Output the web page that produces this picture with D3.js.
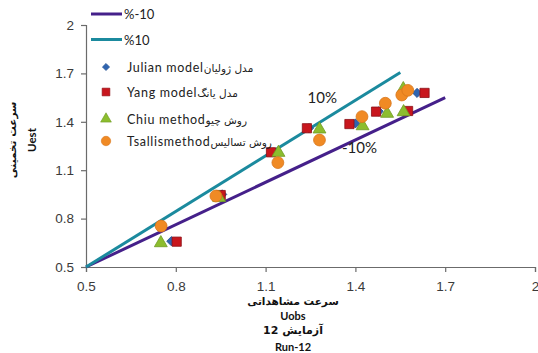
<!DOCTYPE html>
<html>
<head>
<meta charset="utf-8">
<script src="https://cdn.jsdelivr.net/npm/d3@7"></script>
<style>
  html, body { margin: 0; padding: 0; background: #fff; }
  svg { display: block; font-family: Lato, "Open Sans", "DejaVu Sans", sans-serif; }
</style>
</head>
<body>
<svg id="chart" width="538" height="353"></svg>
<script>
// Axis ticks
const xTicks = [0.5, 0.8, 1.1, 1.4, 1.7, 2];
const yTicks = [0.5, 0.8, 1.1, 1.4, 1.7, 2];

// Reference lines (±10% bands)
const plus10X = [0.5, 1.55];
const plus10Y = [0.5, 1.705];
const minus10X = [0.5, 1.7];
const minus10Y = [0.5, 1.55];

// Observed vs estimated velocity, Run-12
const julianX = [0.785, 0.955, 1.125, 1.245, 1.40, 1.478, 1.606];
const julianY = [0.660, 0.950, 1.210, 1.360, 1.390, 1.465, 1.579];

const yangX = [0.803, 0.950, 1.118, 1.238, 1.380, 1.469, 1.576, 1.631];
const yangY = [0.657, 0.946, 1.211, 1.360, 1.386, 1.463, 1.467, 1.579];

const chiuX = [0.750, 0.945, 1.143, 1.280, 1.424, 1.506, 1.561, 1.560];
const chiuY = [0.655, 0.935, 1.215, 1.360, 1.380, 1.457, 1.467, 1.610];

const tsallisX = [0.751, 0.934, 1.141, 1.280, 1.422, 1.500, 1.555, 1.575];
const tsallisY = [0.754, 0.940, 1.147, 1.287, 1.432, 1.515, 1.566, 1.595];

const seriesNames = ["Julian model", "Yang model", "Chiu method", "Tsallismethod"];
const seriesNamesFa = ["مدل ژولیان", "مدل یانگ", "روش چیو", "روش تسالیس"];
const lineNames = ["%-10", "%10"];

const xTitle = ["سرعت مشاهداتی", "Uobs", "آزمایش 12", "Run-12"];
const yTitle = ["سرعت تخمینی", "Uest"];

const svg = d3.select("#chart");

const x = d3.scaleLinear().domain([0.5, 2]).range([86, 535]);
const y = d3.scaleLinear().domain([0.5, 2]).range([267, 25]);

const axisColor = "#6b6b6b";
const labelColor = "#3a3a3a";

// X axis
const xAxis = svg.append("g")
  .attr("transform", `translate(0,${y(0.5)})`)
  .call(d3.axisBottom(x).tickValues(xTicks).tickSize(5).tickFormat(d3.format("")));
xAxis.select(".domain").attr("stroke", axisColor).attr("stroke-width", 1.2);
xAxis.selectAll(".tick line").attr("stroke", axisColor).attr("stroke-width", 1.2);
xAxis.selectAll(".tick text")
  .attr("fill", labelColor).attr("font-size", 13.5).attr("y", 12).attr("dy", "0.9em");

// Y axis
const yAxis = svg.append("g")
  .attr("transform", `translate(${x(0.5)},0)`)
  .call(d3.axisLeft(y).tickValues(yTicks).tickSize(5).tickFormat(d3.format("")));
yAxis.select(".domain").attr("stroke", axisColor).attr("stroke-width", 1.2);
yAxis.selectAll(".tick line").attr("stroke", axisColor).attr("stroke-width", 1.2);
yAxis.selectAll(".tick text")
  .attr("fill", labelColor).attr("font-size", 13.5).attr("x", -12);

// Band lines
const line = d3.line().x(d => x(d[0])).y(d => y(d[1]));
const plusColor = "#1b8a9e";
const minusColor = "#45208a";
svg.append("path")
  .attr("d", line(minus10X.map((v, i) => [v, minus10Y[i]])))
  .attr("fill", "none").attr("stroke", minusColor).attr("stroke-width", 3);
svg.append("path")
  .attr("d", line(plus10X.map((v, i) => [v, plus10Y[i]])))
  .attr("fill", "none").attr("stroke", plusColor).attr("stroke-width", 3);

// Marker styles (diamond = square turned 45°)
const styles = [
  { shape: d3.symbolSquare, rot: 45, size: 42, fill: "#2f64b0", stroke: "#23508f" },
  { shape: d3.symbolSquare, rot: 0, size: 85, fill: "#c8161d", stroke: "#8c1016" },
  { shape: d3.symbolTriangle, rot: 0, size: 72, fill: "#8cbd2e", stroke: "#6e9a22" },
  { shape: d3.symbolCircle, rot: 0, size: 110, fill: "#f08a24", stroke: "#d8761a" }
];
const seriesX = [julianX, yangX, chiuX, tsallisX];
const seriesY = [julianY, yangY, chiuY, tsallisY];

seriesX.forEach((xs, si) => {
  const st = styles[si];
  const pts = xs.map((v, i) => [v, seriesY[si][i]]);
  svg.append("g").selectAll("path")
    .data(pts).join("path")
    .attr("transform", d => `translate(${x(d[0])},${y(d[1]) + (si === 2 ? 1 : 0)}) rotate(${st.rot})`)
    .attr("d", d3.symbol().type(st.shape).size(st.size))
    .attr("fill", st.fill).attr("stroke", st.stroke).attr("stroke-width", 0.8);
});

// Band labels
svg.append("text").attr("x", x(1.24)).attr("y", y(1.545) + 5)
  .attr("font-size", 15).attr("fill", "#222").text("10%");
svg.append("text").attr("x", x(1.355)).attr("y", y(1.235) + 5)
  .attr("font-size", 15).attr("fill", "#222").text("-10%");

// Legend
const legend = svg.append("g");
const lineColors = [minusColor, plusColor];
const legendLineY = [14, 39.5];
lineNames.forEach((n, i) => {
  legend.append("line").attr("x1", 91).attr("x2", 122)
    .attr("y1", legendLineY[i]).attr("y2", legendLineY[i])
    .attr("stroke", lineColors[i]).attr("stroke-width", 3);
  legend.append("text").attr("x", 124).attr("y", legendLineY[i] + 5)
    .attr("font-size", 13).attr("fill", "#222").text(n);
});
const legendRowY = [67, 92, 119, 141];
const legendSizes = [26, 60, 50, 70];
seriesNames.forEach((n, i) => {
  const st = styles[i];
  legend.append("path")
    .attr("transform", `translate(106,${legendRowY[i]}) rotate(${st.rot})`)
    .attr("d", d3.symbol().type(st.shape).size(legendSizes[i]))
    .attr("fill", st.fill).attr("stroke", st.stroke).attr("stroke-width", 0.6);
  const t = legend.append("text").attr("x", 127).attr("y", legendRowY[i] + 4.5)
    .attr("font-size", 12.5).attr("fill", "#222");
  t.append("tspan").attr("letter-spacing", 0.7).text(n);
  t.append("tspan").attr("font-size", 10.5).attr("font-family", "DejaVu Sans")
    .text(seriesNamesFa[i]);
});

// Axis titles
const xt = svg.append("g").attr("font-weight", "bold").attr("fill", "#111")
  .attr("text-anchor", "middle");
const xTitleY = [301, 316, 330, 347];
const xTitleSize = [10.5, 11, 11, 11];
xTitle.forEach((t, i) => {
  xt.append("text").attr("x", 293).attr("y", xTitleY[i] + 4)
    .attr("font-size", xTitleSize[i])
    .attr("font-family", i % 2 === 0 ? "DejaVu Sans" : null)
    .text(t);
});

const yt = svg.append("g").attr("font-weight", "bold").attr("fill", "#111")
  .attr("text-anchor", "middle");
yt.append("text").attr("transform", "translate(16,140) rotate(-90)")
  .attr("font-size", 10.5).attr("font-family", "DejaVu Sans").text(yTitle[0]);
yt.append("text").attr("transform", "translate(36,140) rotate(-90)")
  .attr("font-size", 11.5).text(yTitle[1]);
</script>
</body>
</html>
